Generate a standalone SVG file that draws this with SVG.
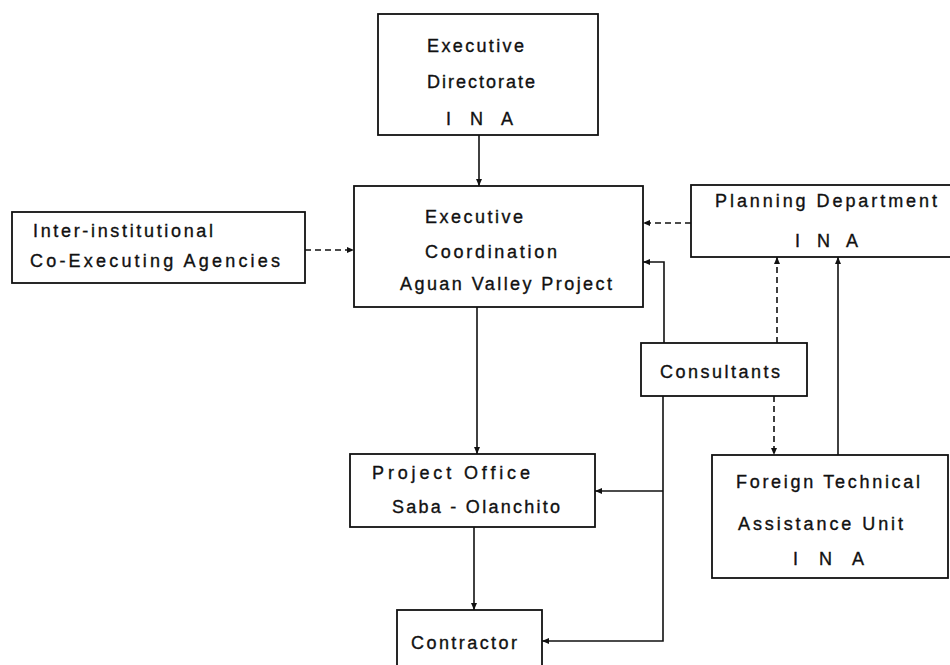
<svg xmlns="http://www.w3.org/2000/svg" width="950" height="665" viewBox="0 0 950 665">
<defs>
<marker id="ah" markerWidth="8" markerHeight="8" refX="7" refY="4" orient="auto" markerUnits="userSpaceOnUse">
<path d="M0,1 L7,4 L0,7 Z" fill="#111"/>
</marker>
<style>
.box{fill:#fff;stroke:#111;stroke-width:1.8}
.t{font-family:"Liberation Sans",Arial,sans-serif;font-size:18px;fill:#111;stroke:#111;stroke-width:0.35}
.c{fill:none;stroke:#111;stroke-width:1.6;marker-end:url(#ah)}
.d{stroke-dasharray:6,4}
</style>
</defs>
<rect width="950" height="665" fill="#fff"/>

<g id="connectors">
<path class="c" d="M479,135 V186"/>
<path class="c d" d="M305,250 H354"/>
<path class="c d" d="M691,223 H643"/>
<path class="c" d="M664,343 V262 H643"/>
<path class="c d" d="M777,343 V257"/>
<path class="c d" d="M774,396 V455"/>
<path class="c" d="M838,455 V257"/>
<path class="c" d="M477,307 V454"/>
<path class="c" d="M474,527 V610"/>
<path class="c" d="M663,396 V641 H542"/>
<path class="c" d="M663,491 H595"/>
</g>

<g id="executive-directorate">
<rect class="box" x="378" y="14" width="220" height="121"/>
<text class="t" x="427" y="52" textLength="97" lengthAdjust="spacing">Executive</text>
<text class="t" x="427" y="88" textLength="108" lengthAdjust="spacing">Directorate</text>
<text class="t" x="446" y="125" textLength="67" lengthAdjust="spacing">I N A</text>
</g>

<g id="executive-coordination">
<rect class="box" x="354" y="186" width="289" height="121"/>
<text class="t" x="425" y="223" textLength="98" lengthAdjust="spacing">Executive</text>
<text class="t" x="425" y="258" textLength="132" lengthAdjust="spacing">Coordination</text>
<text class="t" x="400" y="290" textLength="212" lengthAdjust="spacing">Aguan Valley Project</text>
</g>

<g id="inter-institutional">
<rect class="box" x="12" y="212" width="293" height="71"/>
<text class="t" x="33" y="237" textLength="180" lengthAdjust="spacing">Inter-institutional</text>
<text class="t" x="30" y="267" textLength="250" lengthAdjust="spacing">Co-Executing  Agencies</text>
</g>

<g id="planning-department">
<rect class="box" x="691" y="185" width="300" height="72"/>
<text class="t" x="715" y="207" textLength="222" lengthAdjust="spacing">Planning  Department</text>
<text class="t" x="795" y="247" textLength="63" lengthAdjust="spacing">I N A</text>
</g>

<g id="consultants">
<rect class="box" x="641" y="343" width="166" height="53"/>
<text class="t" x="660" y="378" textLength="120" lengthAdjust="spacing">Consultants</text>
</g>

<g id="project-office">
<rect class="box" x="350" y="454" width="245" height="73"/>
<text class="t" x="372" y="479" textLength="158" lengthAdjust="spacing">Project  Office</text>
<text class="t" x="392" y="513" textLength="168" lengthAdjust="spacing">Saba - Olanchito</text>
</g>

<g id="foreign-technical">
<rect class="box" x="712" y="455" width="236" height="123"/>
<text class="t" x="736" y="488" textLength="184" lengthAdjust="spacing">Foreign  Technical</text>
<text class="t" x="738" y="530" textLength="165" lengthAdjust="spacing">Assistance Unit</text>
<text class="t" x="793" y="565" textLength="71" lengthAdjust="spacing">I N A</text>
</g>

<g id="contractor">
<rect class="box" x="397" y="610" width="145" height="70"/>
<text class="t" x="411" y="649" textLength="106" lengthAdjust="spacing">Contractor</text>
</g>
</svg>
